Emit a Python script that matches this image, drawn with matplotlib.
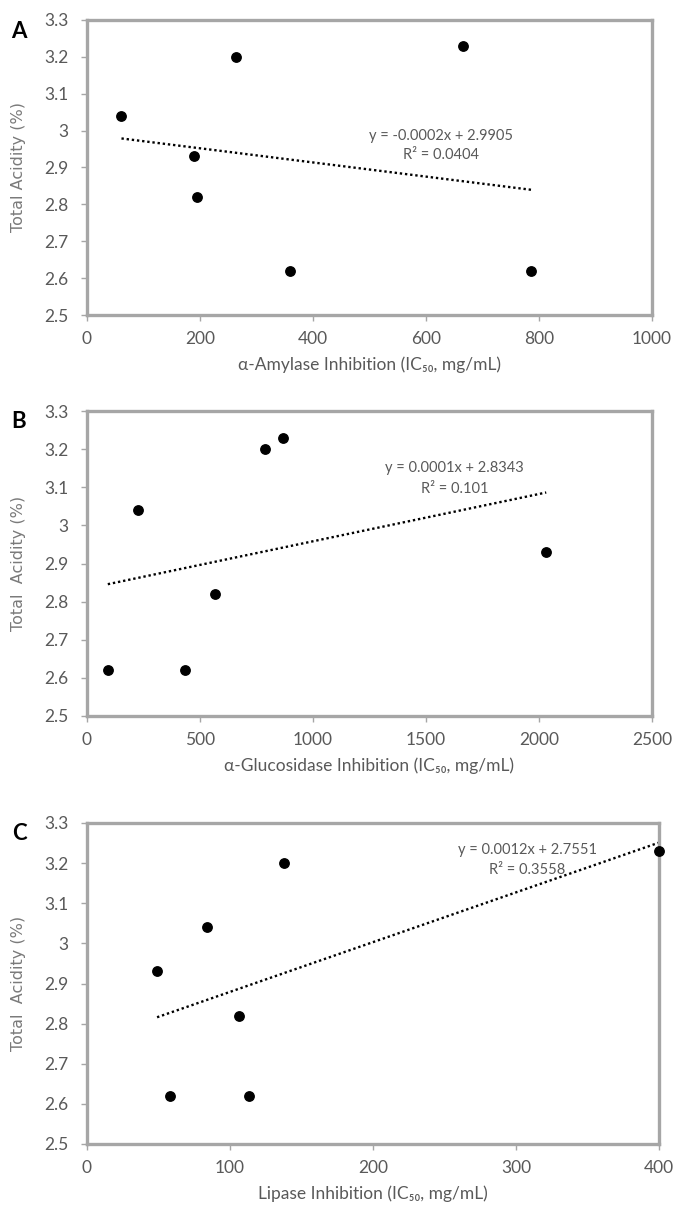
import numpy as np
import matplotlib.pyplot as plt
from matplotlib.ticker import FuncFormatter

# total acidity (%) of the seven samples against each enzyme IC50
amylase_ic50 = [61, 189, 195, 263, 359, 666, 786]
acid_amylase = [3.04, 2.93, 2.82, 3.20, 2.62, 3.23, 2.62]

glucosidase_ic50 = [92, 226, 432, 566, 788, 866, 2032]
acid_glucosidase = [2.62, 3.04, 2.62, 2.82, 3.20, 3.23, 2.93]

lipase_ic50 = [49, 58, 84, 106, 113, 138, 400]
acid_lipase = [2.93, 2.62, 3.04, 2.82, 2.62, 3.20, 3.23]

# linear trend lines and their R^2
slopes = [-0.000192, 0.000124, 0.00124]
intercepts = [2.9905, 2.8343, 2.7551]
r_squared = [0.0404, 0.101, 0.3558]

letters = ["A", "B", "C"]
xlabels = ["α-Amylase Inhibition (IC₅₀, mg/mL)",
           "α-Glucosidase Inhibition (IC₅₀, mg/mL)",
           "Lipase Inhibition (IC₅₀, mg/mL)"]
ylabels = ["Total Acidity (%)", "Total  Acidity (%)", "Total  Acidity (%)"]
xmax = [1000, 2500, 400]
xstep = [200, 500, 100]
# where the equation sits (x, first line y, second line y) in data units
eq_pos = [(627, 2.985, 2.934), (1626, 3.150, 3.095), (308, 3.233, 3.183)]

W, H = 676, 1212
# axes boxes in pixels: left, top, right, bottom
boxes = [(87, 20, 652, 315), (87, 411, 652, 716), (87, 823, 659, 1144)]

FRAME = "#A6A6A6"
TXT = "#595959"
CAL = ["Lato", "DejaVu Sans"]

fig = plt.figure(figsize=(W / 100, H / 100), dpi=100)

xs_all = [amylase_ic50, glucosidase_ic50, lipase_ic50]
ys_all = [acid_amylase, acid_glucosidase, acid_lipase]

for i in range(3):
    l, t, r, b = boxes[i]
    ax = fig.add_axes([l / W, 1 - b / H, (r - l) / W, (b - t) / H])
    x = np.array(xs_all[i], dtype=float)
    y = np.array(ys_all[i], dtype=float)

    ax.scatter(x, y, s=46, color="black", zorder=3, clip_on=False)

    tx = np.array([x.min(), x.max()])
    ax.plot(tx, slopes[i] * tx + intercepts[i], color="black", lw=1.7,
            linestyle=(0, (1, 1.2)), zorder=2)

    ex, ey1, ey2 = eq_pos[i]
    eq = f"y = {slopes[i]:.4f}x + {intercepts[i]:.4f}"
    ax.text(ex, ey1, eq, ha="center", va="center", fontsize=10.5,
            color=TXT, family=CAL)
    ax.text(ex, ey2, f"R² = {r_squared[i]:g}", ha="center", va="center",
            fontsize=10.5, color=TXT, family=CAL)

    ax.set_xlim(0, xmax[i])
    ax.set_ylim(2.5, 3.3)
    ax.set_xticks(np.arange(0, xmax[i] + 1, xstep[i]))
    ax.set_yticks(np.round(np.arange(2.5, 3.31, 0.1), 1))
    ax.yaxis.set_major_formatter(FuncFormatter(lambda v, p: f"{v:g}"))

    for s in ax.spines.values():
        s.set_color(FRAME)
        s.set_linewidth(2.4)
    ax.tick_params(direction="out", length=4.5, width=1, color=FRAME,
                   labelcolor=TXT, labelsize=12.5)
    ax.tick_params(axis="y", pad=9)
    ax.tick_params(axis="x", pad=7)
    for lab in ax.get_xticklabels() + ax.get_yticklabels():
        lab.set_family(CAL)

    ax.set_xlabel(xlabels[i], fontsize=12.5, color=TXT, family=CAL)
    ax.xaxis.set_label_coords(0.5, -50 / (b - t))
    ax.xaxis.label.set_va("center")
    ax.set_ylabel(ylabels[i], fontsize=11.5, color="#7A7A7A")
    ax.yaxis.set_label_coords(-(l - 19) / (r - l), 0.5)
    ax.yaxis.label.set_va("center")

    fig.text(19 / W, 1 - (t + 11) / H, letters[i], fontsize=16,
             fontweight="bold", ha="center", va="center", family=CAL)

fig.savefig("out.png", dpi=100)
